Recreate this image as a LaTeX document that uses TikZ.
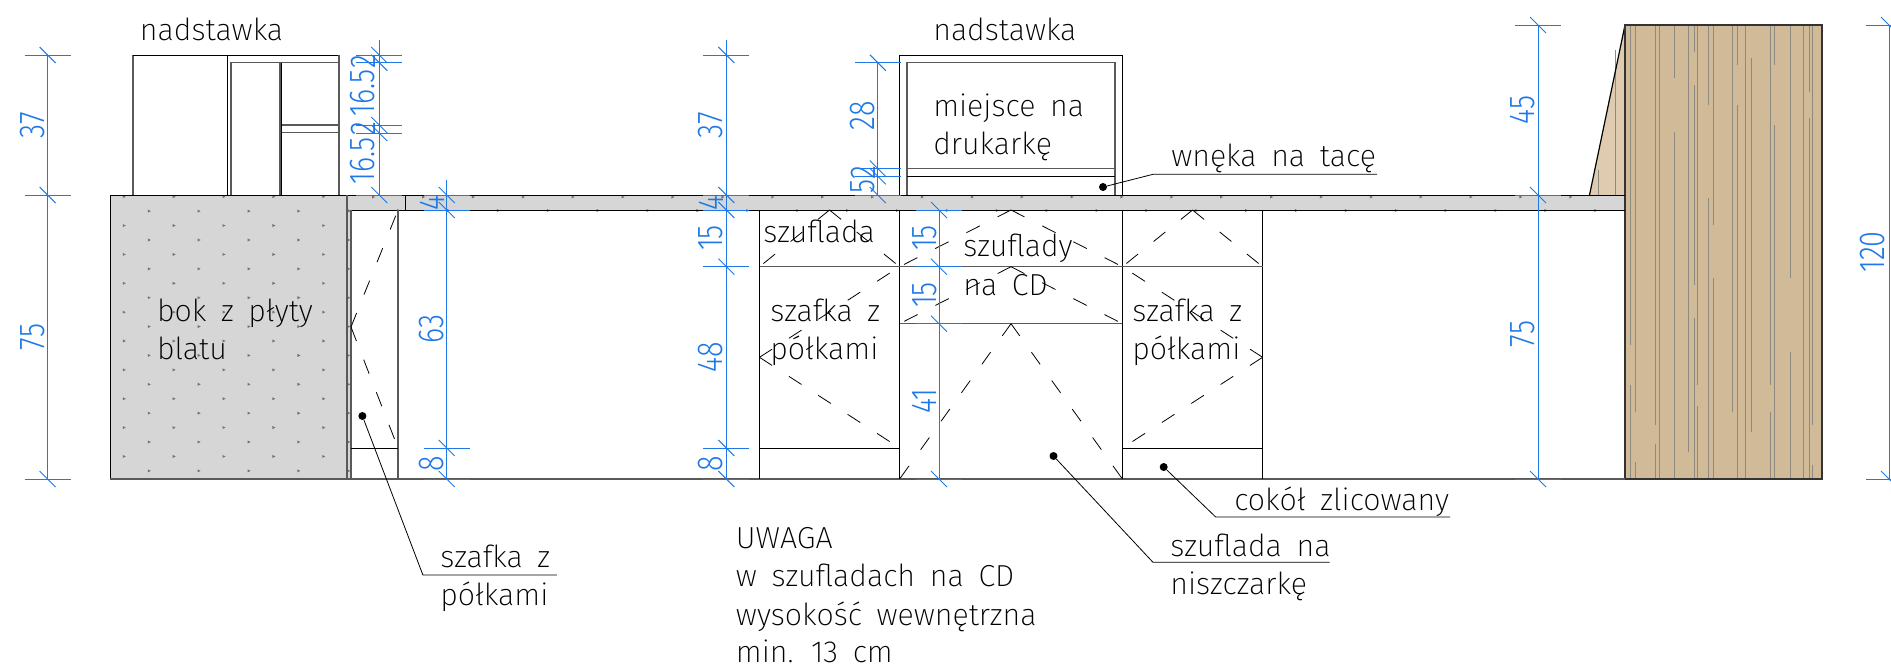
\documentclass[tikz,border=0pt]{standalone}
\usepackage{fontspec}
\newfontfamily\opisfont[WordSpace=1.7]{Fira Sans ExtraLight}
\newfontfamily\wymiarfont[FakeStretch=0.8]{Fira Sans Light}
\definecolor{wymiar}{HTML}{1E78E6}
\definecolor{plyta}{HTML}{D6D6D6}
\definecolor{drewno}{HTML}{D1BA98}
\definecolor{drewnojasne}{HTML}{DFCBB0}
\definecolor{sloje}{HTML}{8F8A80}
\begin{document}
\begin{tikzpicture}[x=0.75pt,y=-0.75pt]
        \tikzstyle{opis}=[anchor=base west,inner sep=0pt,xshift=-1.5pt,font=\opisfont\fontsize{22.8}{24}\selectfont,text=black]
        \tikzstyle{liczba}=[rotate=90,inner sep=0pt,font=\wymiarfont\fontsize{27}{27}\selectfont,text=wymiar]
        \tikzstyle{cienka}=[draw=black,line width=0.7pt]
        \tikzstyle{szara}=[draw=black!65,line width=1.1pt]
        \tikzstyle{otwarcie}=[draw=black,line width=0.6pt,dash pattern=on 11.25pt off 15pt]
        \tikzstyle{kreska}=[draw=wymiar,line width=0.7pt]
        \tikzstyle{odnosnik}=[draw=black,line width=0.6pt]
        \tikzstyle{kropka}=[circle,fill=black,inner sep=0pt,minimum size=6pt]

        \useasboundingbox (0,0) rectangle (1891,669);

        % blat i bok
        \fill[plyta] (110,195) rectangle (351,479);
        \fill[plyta] (351,195) rectangle (1625,210);
        \foreach \k in {0,2,...,18} {
          \foreach \i in {0,...,4} {
            \fill[black!55] ({124.3+49.88*\i-1.5},{196.7+14.43*\k-1.5}) -- ++(3,1.5) -- ++(-3,1.5) -- cycle;
          }
        }
        \foreach \k in {1,3,...,19} {
          \foreach \i in {0,...,4} {
            \fill[black!55] ({149.3+49.88*\i-1.5},{196.7+14.43*\k-1.5}) -- ++(3,1.5) -- ++(-3,1.5) -- cycle;
          }
        }
        \foreach \i in {5,...,29} {
          \fill[black!55] ({124.3+49.88*\i-1.5},195.5) -- ++(3,1.5) -- ++(-3,1.5) -- cycle;
        }
        \foreach \i in {4,...,29} {
          \fill[black!55] ({149.3+49.88*\i-1.5},209) -- ++(3,1.5) -- ++(-3,1.5) -- cycle;
        }

        % sciana
        \fill[drewnojasne] (1625,25) -- (1589.5,195) -- (1625,195) -- cycle;
        \fill[drewno] (1625,25) rectangle (1822,479);
        \foreach \x/\on/\off/\ph in {1630/300/30/60,1635.3/480/38/190,1655/420/14/120,1659/640/10/130,
            1674/340/40/300,1688/350/90/30,1694/150/25/130,1697/330/16/60,1708/250/70/190,
            1713/180/40/30,1732/330/60/40,1737/300/30/270,1745.7/650/16/90,1751.5/280/45/300,
            1770/380/20/110,1774/300/45/270,1790/410/55/220,1803/430/35/60,1809/300/20/250,1812/420/30/120} {
          \draw[sloje,line width=0.75pt,dash pattern=on \on pt off \off pt,dash phase=\ph pt] (\x,25) -- (\x,479);
        }
        \draw[sloje,line width=0.75pt] (1615,50) -- (1615,195);
        \draw[sloje,line width=0.6pt] (1598,170) -- (1598,195);
        \draw[black,line width=0.9pt,fill=none] (1625,25) -- (1589.5,195);
        \draw[black!80,line width=0.9pt] (1625,479) -- (1625,25) -- (1822,25) -- (1822,479) -- cycle;

        % obrysy blatu i szafek
        \draw[cienka] (110,479) -- (110,195) -- (1625,195);
        \draw[szara] (110,479) -- (1625,479);
        \draw[cienka] (351,210) -- (1625,210);
        \draw[cienka] (405,195) -- (405,210);
        \draw[szara] (347,195) -- (347,479);
        \draw[szara] (351,210) -- (351,479);
        \draw[szara] (398,210) -- (398,479);
        \foreach \x in {759.5,899.6,1122.4,1262.6} {
          \draw[cienka] (\x,210) -- (\x,479);
        }
        \draw[szara] (759.5,266.7) -- (1262.6,266.7);
        \draw[szara] (899.6,323.7) -- (1122.4,323.7);
        \foreach \a/\b in {351/398,759.5/899.6,1122.4/1262.6} {
          \draw[cienka] (\a,448) -- (\b,448);
        }

        % nadstawka lewa
        \draw[szara] (133,195) -- (133,55);
        \draw[cienka] (133,55) -- (340,55);
        \draw[cienka] (227.3,55) -- (227.3,195);
        \draw[szara] (231,195) -- (231,62.7) -- (338,62.7);
        \draw[szara] (280,62.7) -- (280,195);
        \draw[cienka] (281.7,62.7) -- (281.7,195);
        \draw[szara,line width=1.6pt] (339,55) -- (339,195);
        \draw[szara] (281.7,125) -- (338,125);
        \draw[szara] (281.7,132.7) -- (338,132.7);

        % nadstawka srodkowa
        \draw[cienka] (899.6,195) -- (899.6,55) -- (1122.4,55) -- (1122.4,195);
        \draw[szara] (906.8,195) -- (906.8,62.7) -- (1114.8,62.7) -- (1114.8,195);
        \draw[szara] (906.8,168.5) -- (1114.8,168.5);
        \draw[cienka] (906.8,176.3) -- (1114.8,176.3);

        % otwarcia
        \foreach \ax/\ay/\bx/\by/\cx/\cy in {
            351/327/398/210/398/448,
            829.5/210/759.5/266.7/899.6/266.7,
            1011/210/899.6/266.7/1122.4/266.7,
            1011/266.7/899.6/323.7/1122.4/323.7,
            1192.5/210/1122.4/266.7/1262.6/266.7,
            759.5/357.3/899.6/266.7/899.6/448,
            1262.6/357.3/1122.4/266.7/1122.4/448,
            1011/323.7/899.6/479/1122.4/479} {
          \draw[otwarcie] (\ax,\ay) -- (\bx,\by);
          \draw[otwarcie] (\ax,\ay) -- (\cx,\cy);
        }

        % wymiary
        \foreach \x/\a/\b/\ticks in {47.6/55/479/{55,195,479},379.3/40/195/{55,62.7,125,133,195},
            446.7/180/479/{195,210,448,479},726.4/40/479/{55,195,210,266.7,448,479},
            877.8/62.7/195/{62.7,168.5,176.3,195},939/210/479/{210,266.7,323.7,479},
            1538/25/479/{25,195,479},1889/25/479/{25,479}} {
          \draw[kreska] (\x,\a) -- (\x,\b);
          \foreach \y in \ticks {
            \draw[kreska] (\x-23,\y) -- (\x+23,\y);
            \draw[kreska] (\x-8,\y-8) -- (\x+8,\y+8);
          }
        }

        \node [liczba] (w37a) at (33,125) {37};
        \node [liczba] (w75a) at (33,337) {75};
        \node [liczba] (w165a) at (363,161) {16.5};
        \node [liczba] (w2a) at (363,129) {2};
        \node [liczba] (w165b) at (363,93) {16.5};
        \node [liczba] (w2b) at (363,62) {2};
        \node [liczba] (w4a) at (432,203) {4};
        \node [liczba] (w63) at (432,329) {63};
        \node [liczba] (w8a) at (432,464) {8};
        \node [liczba] (w37b) at (711,125) {37};
        \node [liczba] (w4b) at (711,203) {4};
        \node [liczba] (w15a) at (711,238) {15};
        \node [liczba] (w48) at (711,357) {48};
        \node [liczba] (w8b) at (711,464) {8};
        \node [liczba] (w28) at (863,116) {28};
        \node [liczba] (w2c) at (863,173) {2};
        \node [liczba] (w5) at (863,186) {5};
        \node [liczba] (w15b) at (924.6,238) {15};
        \node [liczba] (w15c) at (924.6,295) {15};
        \node [liczba] (w41) at (924.6,401) {41};
        \node [liczba] (w45) at (1523,110) {45};
        \node [liczba] (w75b) at (1523,334) {75};
        \node [liczba] (w120) at (1873,252) {120};

        % opisy
        \node [opis] (nadstawkaA) at (141.7,40) {nadstawka};
        \node [opis] (nadstawkaB) at (935,40) {nadstawka};
        \node [opis] (miejsce) at (935,116.7) {miejsce na};
        \node [opis] (drukarka) at (935,154) {drukarkę};
        \node [opis] (wneka) at (1173,166.7) {wnęka na tacę};
        \node [opis] (szuflada) at (765,242.7) {szuflada};
        \node [opis] (szuflady) at (965,256.7) {szuflady};
        \node [opis] (nacd) at (965,295) {na CD};
        \node [opis] (szafkaL) at (772,321.7) {szafka z};
        \node [opis] (polkiL) at (772,359) {półkami};
        \node [opis] (szafkaP) at (1134,321.7) {szafka z};
        \node [opis] (polkiP) at (1134,359) {półkami};
        \node [opis] (bok) at (158.8,321.7) {bok z płyty};
        \node [opis] (blat) at (158.8,359) {blatu};
        \node [opis] (szafkaD) at (442,567.7) {szafka z};
        \node [opis] (polkiD) at (442,605) {półkami};
        \node [opis] (cokol) at (1236,510) {cokół zlicowany};
        \node [opis] (niszczA) at (1172,556) {szuflada na};
        \node [opis] (niszczB) at (1172,594) {niszczarkę};
        \node [opis] (uwaga) at (737.7,548) {UWAGA};
        \node [opis] (uwagaA) at (737.7,586.7) {w szufladach na CD};
        \node [opis] (uwagaB) at (737.7,625) {wysokość wewnętrzna};
        \node [opis] (uwagaC) at (737.7,662.7) {min. 13 cm};

        % odnosniki
        \node [kropka] (k1) at (362.4,416) {};
        \node [kropka] (k2) at (1103,187) {};
        \node [kropka] (k3) at (1053.5,456) {};
        \node [kropka] (k4) at (1163.7,467) {};
        \coordinate (z1) at (422.9,575);
        \coordinate (e1) at (556.8,575);
        \coordinate (z2) at (1153,174.3);
        \coordinate (e2) at (1377,174.3);
        \coordinate (z3) at (1153,562.3);
        \coordinate (e3) at (1329.5,562.3);
        \coordinate (z4) at (1215.7,517);
        \coordinate (e4) at (1450,517);
        \draw[odnosnik] (k1) -- (z1) -- (e1);
        \draw[odnosnik] (k2) -- (z2) -- (e2);
        \draw[odnosnik] (k3) -- (z3) -- (e3);
        \draw[odnosnik] (k4) -- (z4) -- (e4);
\end{tikzpicture}
\end{document}
